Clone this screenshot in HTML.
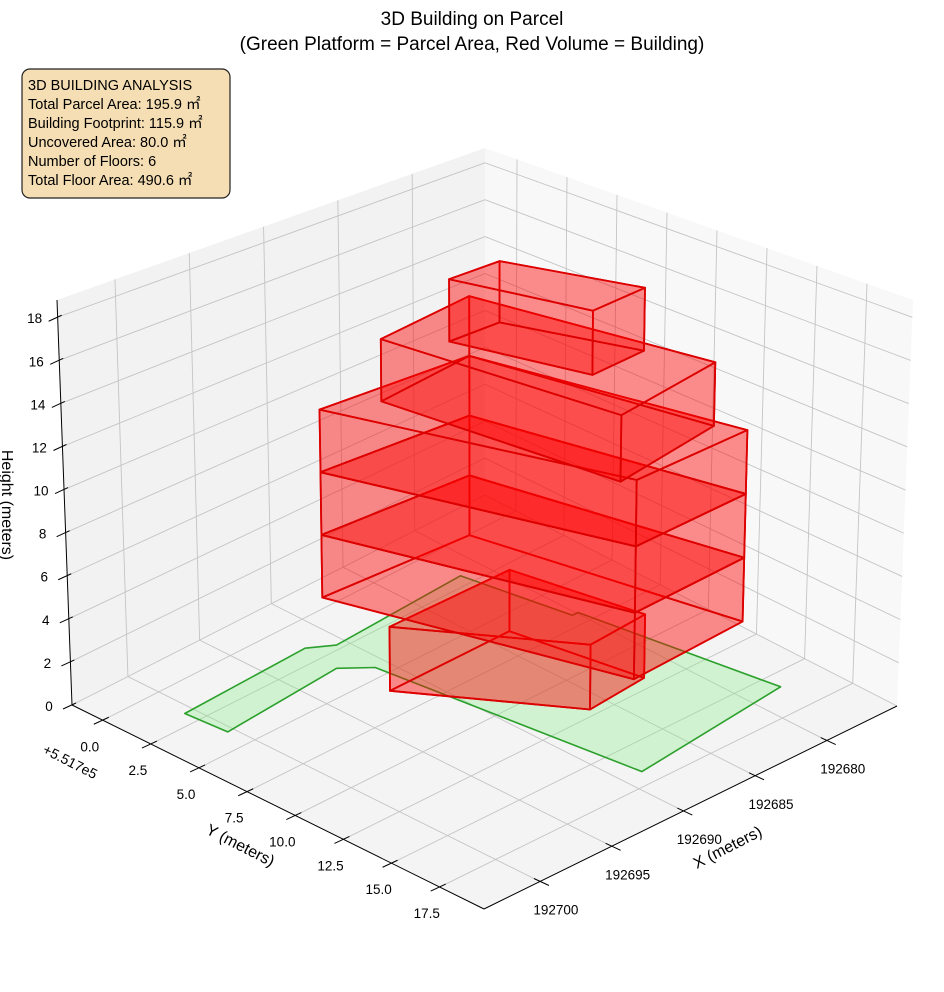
<!DOCTYPE html>
<html><head><meta charset="utf-8"><style>
body{margin:0;background:#fff;}
svg{display:block;font-family:"Liberation Sans","Noto Sans CJK JP",sans-serif;}
</style></head><body>
<svg id="chart" width="944" height="992" viewBox="0 0 944 992" xmlns="http://www.w3.org/2000/svg">
<rect width="944" height="992" fill="#fff"/>
<g id="panes"></g><g id="grid"></g><g id="parcel"></g><g id="building"></g><g id="axes"></g>
<text x="472" y="25" font-size="19" text-anchor="middle">3D Building on Parcel</text>
<text x="472" y="50" font-size="19" text-anchor="middle">(Green Platform = Parcel Area, Red Volume = Building)</text>
<g>
<rect x="22" y="69" width="208" height="129" rx="8" fill="#f5deb3" stroke="#222" stroke-width="1.2"/>
<text x="28" y="90" font-size="14.5">3D BUILDING ANALYSIS</text>
<text x="28" y="109" font-size="14.5">Total Parcel Area: 195.9 ㎡</text>
<text x="28" y="128" font-size="14.5">Building Footprint: 115.9 ㎡</text>
<text x="28" y="147" font-size="14.5">Uncovered Area: 80.0 ㎡</text>
<text x="28" y="166" font-size="14.5">Number of Floors: 6</text>
<text x="28" y="185" font-size="14.5">Total Floor Area: 490.6 ㎡</text>
</g>
<text x="730" y="852" font-size="16" text-anchor="middle" transform="rotate(-27 730 852)">X (meters)</text>
<text x="238" y="850" font-size="16" text-anchor="middle" transform="rotate(27 238 850)">Y (meters)</text>
<text x="2" y="505" font-size="16" text-anchor="middle" transform="rotate(90 2 505)">Height (meters)</text>
<text x="68" y="766" font-size="14" text-anchor="middle" transform="rotate(27 68 766)">+5.517e5</text>
</svg>
<script>
const NS="http://www.w3.org/2000/svg";
// axis ranges (data units)
const xRange=[192675.1,192703.9];
const yRange=[-1.6,19.8];
const zRange=[0,18.8];
const xTicks=[192680,192685,192690,192695,192700];
const yTicks=[0,2.5,5,7.5,10,12.5,15,17.5];
const yTickLabels=["0.0","2.5","5.0","7.5","10.0","12.5","15.0","17.5"];
const zTicks=[0,2,4,6,8,10,12,14,16,18];
// parcel polygon (x, y in local units)
const parcelX=[192700.6,192691.9,192690.6,192681.5,192680.3,192679.9,192677.9,192688.7,192690.8,192692.2,192700.4];
const parcelY=[1.80,1.57,2.23,1.89,6.81,6.81,15.84,16.68,4.39,3.43,3.88];
// building floors: footprint x, y, and base/top heights
const volNames=["floor-1","floor-2","floor-3","floor-4","floor-5","floor-6"];
const volX=[[192691.9,192686.2,192682.1,192683.6],[192692.1,192687.2,192679.2,192682.5],[192692.1,192687.2,192679.2,192682.5],[192692.1,192687.2,192679.2,192682.5],[192689.3,192687.9,192680.0,192682.5],[192687.2,192685.3,192681.4,192683.8]];
const volY=[[5.98,12.12,11.88,6.0],[2.66,15.1,14.75,3.11],[2.66,15.1,14.75,3.11],[2.66,15.1,14.75,3.11],[3.71,14.8,13.65,3.11],[5.6,11.4,11.1,5.6]];
const volZ0=[0,3,6,9,12,15];
const volZ1=[3,6,9,12,15,18];

// projection corners
const C={back:[485,495],left:[72,705],front:[484,909],right:[897,706]};
function proj(x,y,z){
  const a=(x-xRange[0])/(xRange[1]-xRange[0]);
  const b=(y-yRange[0])/(yRange[1]-yRange[0]);
  const w=(z-zRange[0])/(zRange[1]-zRange[0]);
  const k=[(1-a)*(1-b),a*(1-b),a*b,(1-a)*b];
  const P=[C.back,C.left,C.front,C.right];
  let sx=0,sy=0;for(let i=0;i<4;i++){sx+=k[i]*P[i][0];sy+=k[i]*P[i][1];}
  const H=k[0]*347+k[1]*405+k[2]*460+k[3]*406;
  const dx=k[1]*(-15)+k[3]*16;
  return [sx+dx*w, sy-H*w];
}
function pts(arr){return arr.map(p=>p[0].toFixed(1)+","+p[1].toFixed(1)).join(" ");}
function mk(tag,attrs,parent){const e=document.createElementNS(NS,tag);for(const k in attrs)e.setAttribute(k,attrs[k]);parent.appendChild(e);return e;}
const X0=xRange[0],X1=xRange[1],Y0=yRange[0],Y1=yRange[1],Z0=zRange[0],Z1=zRange[1];
// panes
const gp=document.getElementById('panes');
let e;
e=mk('polygon',{points:pts([proj(X0,Y0,Z0),proj(X1,Y0,Z0),proj(X1,Y0,Z1),proj(X0,Y0,Z1)]),fill:'#f2f2f2'},gp);


e=mk('polygon',{points:pts([proj(X0,Y0,Z0),proj(X0,Y1,Z0),proj(X0,Y1,Z1),proj(X0,Y0,Z1)]),fill:'#f8f8f8'},gp);


e=mk('polygon',{points:pts([proj(X0,Y0,Z0),proj(X1,Y0,Z0),proj(X1,Y1,Z0),proj(X0,Y1,Z0)]),fill:'#f4f4f4'},gp);


// grid
const gg=document.getElementById('grid');
function gl(p,q,name){const l=mk('line',{x1:p[0],y1:p[1],x2:q[0],y2:q[1],stroke:'#c4c4c4','stroke-width':0.9},gg);}
xTicks.forEach(t=>{gl(proj(t,Y0,Z0),proj(t,Y1,Z0),'grid-x-floor');gl(proj(t,Y0,Z0),proj(t,Y0,Z1),'grid-x-wall');});
yTicks.forEach(t=>{gl(proj(X0,t,Z0),proj(X1,t,Z0),'grid-y-floor');gl(proj(X0,t,Z0),proj(X0,t,Z1),'grid-y-wall');});
zTicks.forEach(t=>{gl(proj(X0,Y0,t),proj(X1,Y0,t),'grid-z-left');gl(proj(X0,Y0,t),proj(X0,Y1,t),'grid-z-right');});
// parcel
const gpar=document.getElementById('parcel');
e=mk('polygon',{points:pts(parcelX.map((x,i)=>proj(x,parcelY[i],0))),fill:'rgba(144,238,144,0.35)',stroke:'#2ca02c','stroke-width':1.6,'stroke-linejoin':'round'},gpar);


// building
const gb=document.getElementById('building');
volX.forEach((xs,i)=>{
  const g=mk('g',{},gb);
  
  
  const ys=volY[i],n=xs.length;
  const bot=xs.map((x,j)=>proj(x,ys[j],volZ0[i]));
  const top=xs.map((x,j)=>proj(x,ys[j],volZ1[i]));
  const st={fill:'rgba(255,0,0,0.25)',stroke:'#dd0000','stroke-width':1.8,'stroke-linejoin':'round'};
  let f=mk('polygon',Object.assign({points:pts(bot)},st),g);
  
  
  for(let j=0;j<n;j++){const k=(j+1)%n;
    f=mk('polygon',Object.assign({points:pts([bot[j],bot[k],top[k],top[j]])},st),g);
    
    
  }
  f=mk('polygon',Object.assign({points:pts(top)},st),g);
  
  
});
// axes
const ga=document.getElementById('axes');
function al(p,q,name){const l=mk('line',{x1:p[0],y1:p[1],x2:q[0],y2:q[1],stroke:'#000','stroke-width':1},ga);}
function tx(s,x,y,name,anchor){const t=mk('text',{x:x,y:y,'font-size':13.5,'text-anchor':anchor||'middle'},ga);t.textContent=s;}
al(proj(X1,Y0,Z0),proj(X1,Y1,Z0),'y-axis-line');
al(proj(X1,Y1,Z0),proj(X0,Y1,Z0),'x-axis-line');
al(proj(X1,Y0,Z0),proj(X1,Y0,Z1),'z-axis-line');
yTicks.forEach((t,i)=>{const p=proj(X1,t,0);al([p[0]-9,p[1]+4],[p[0]+6,p[1]-3],'y-tick');tx(yTickLabels[i],p[0]-13,p[1]+31,'y-tick-label');});
xTicks.forEach(t=>{const p=proj(t,Y1,0);al([p[0]-6,p[1]-3],[p[0]+9,p[1]+4],'x-tick');tx(String(t),p[0]+16,p[1]+33,'x-tick-label');});
zTicks.forEach(t=>{const p=proj(X1,Y0,t);al([p[0]-9,p[1]+4],[p[0]+4,p[1]-2],'z-tick');tx(String(t),p[0]-23,p[1]+6,'z-tick-label');});
</script>
</body></html>
